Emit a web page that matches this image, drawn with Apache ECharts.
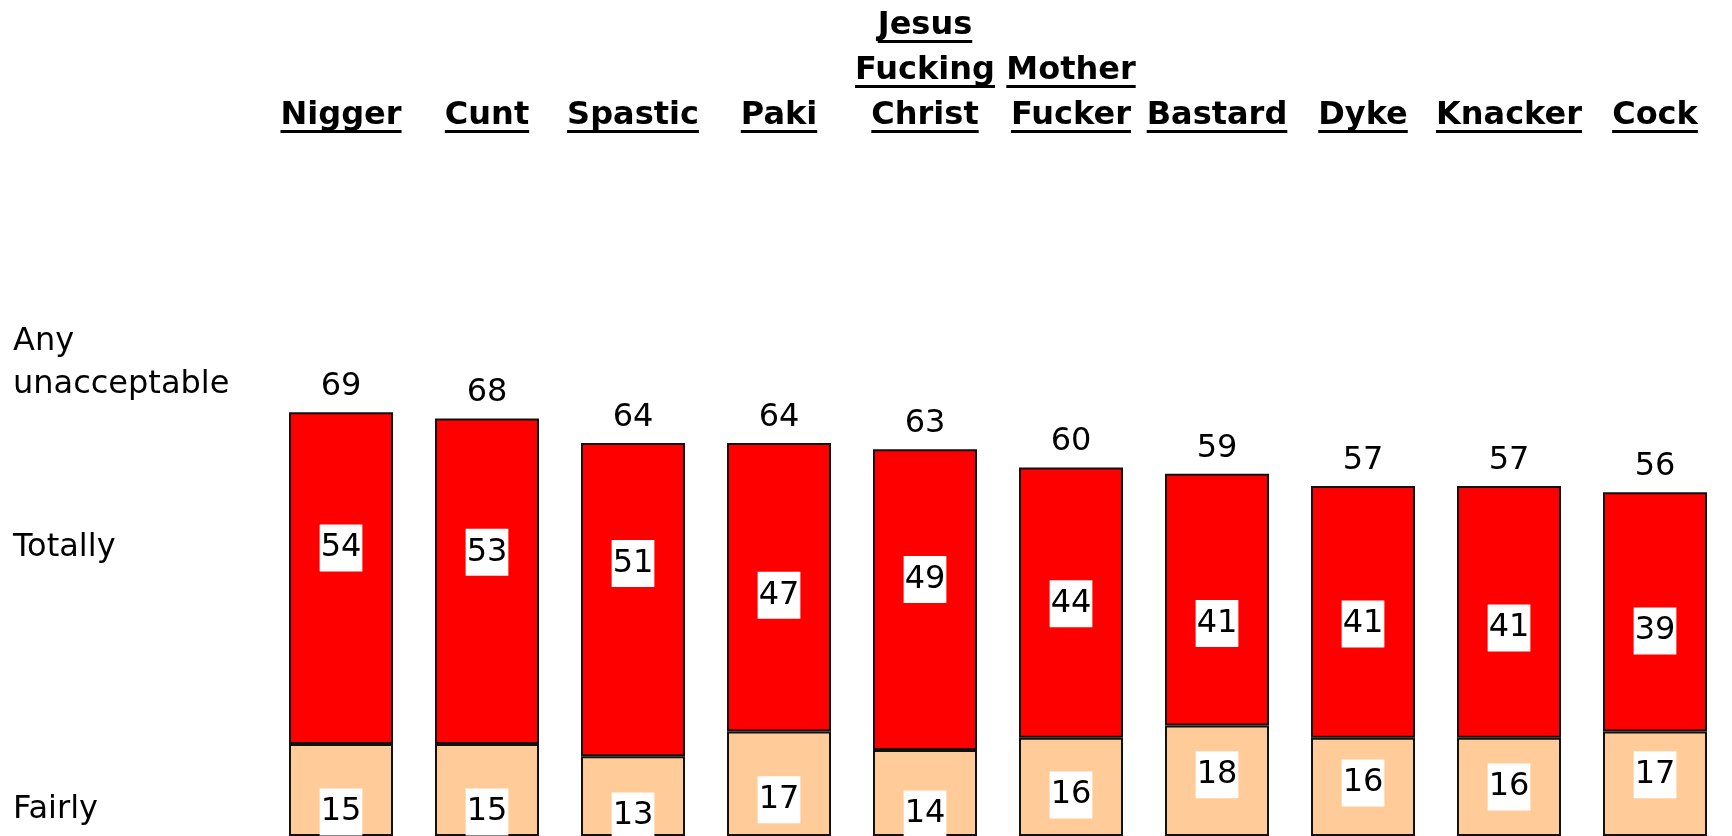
<!DOCTYPE html>
<html>
<head>
<meta charset="utf-8">
<title>Unacceptable words</title>
<script src="https://cdn.jsdelivr.net/npm/echarts@6/dist/echarts.min.js"></script>
<style>
  html, body { margin: 0; padding: 0; background: #fff; }
  #main { width: 1732px; height: 836px; }
</style>
</head>
<body>
<div id="main"></div>
<script>
// data
const categories = ['Nigger', 'Cunt', 'Spastic', 'Paki', 'Jesus Fucking Christ', 'Mother Fucker', 'Bastard', 'Dyke', 'Knacker', 'Cock'];
const totally = [54, 53, 51, 47, 49, 44, 41, 41, 41, 39];
const fairly = [15, 15, 13, 17, 14, 16, 18, 16, 16, 17];
const anyUnacceptable = [69, 68, 64, 64, 63, 60, 59, 57, 57, 56];
const rowNames = ['Any\nunacceptable', 'Totally', 'Fairly'];

// label nudges (px) so the boxes sit where the original placed them
const totallyNudge = [-30, -29, -36, 8, -20, 1, 24, 12, 16, 19];
const fairlyNudge = [22, 22, 20, 16, 21, 8, -6, -4, 0, -9];

const FONT = 'DejaVu Sans';
const FS = 32;

var myChart = echarts.init(document.getElementById('main'));

// one top axis per header row, counted from the bottom row up
function headerAxis(level, offset) {
    return {
        type: 'category',
        data: categories,
        position: 'top',
        offset: offset,
        gridIndex: 0,
        axisLine: { show: false },
        axisTick: { show: false },
        splitLine: { show: false },
        axisLabel: {
            interval: 0,
            margin: 0,
            formatter: function (value) {
                let words = value.split(' ');
                let w = words[words.length - 1 - level];
                return w ? '{t|' + w + '}\n{u|}' : '';
            },
            rich: {
                t: { fontFamily: FONT, fontSize: FS, fontWeight: 'bold', color: '#000', lineHeight: 28 },
                u: { backgroundColor: '#000', width: '100%', height: 3, lineHeight: 3, align: 'left' }
            }
        }
    };
}

let innerLabel = {
    show: true,
    position: 'inside',
    color: '#000',
    fontFamily: FONT,
    fontSize: FS,
    lineHeight: 35,
    backgroundColor: '#fff',
    padding: [10, 1, 2, 1]
};

function rowText(name, top) {
    return {
        type: 'text', left: 13, top: top,
        style: { text: name, fontFamily: FONT, fontSize: FS, lineHeight: 43, fill: '#000' }
    };
}

option = {
    animation: false,
    backgroundColor: '#fff',
    grid: { left: 268, width: 1460, top: 222, height: 618 },
    xAxis: [headerAxis(0, 89), headerAxis(1, 134), headerAxis(2, 179)],
    yAxis: { type: 'value', min: 0, max: 100, show: false },
    graphic: [
        rowText(rowNames[0], 320),
        rowText(rowNames[1], 526),
        rowText(rowNames[2], 788)
    ],
    series: [
        {
            name: 'Fairly',
            type: 'bar',
            stack: 'all',
            barWidth: 104,
            data: fairly.map((v, i) => ({ value: v, label: { offset: [0, fairlyNudge[i]] } })),
            itemStyle: { color: '#FFCC99', borderColor: '#111', borderWidth: 2 },
            label: innerLabel
        },
        {
            name: 'Totally',
            type: 'bar',
            stack: 'all',
            barWidth: 104,
            data: totally.map((v, i) => ({ value: v, label: { offset: [0, totallyNudge[i]] } })),
            itemStyle: { color: '#FF0000', borderColor: '#111', borderWidth: 2 },
            label: innerLabel
        },
        {
            name: 'Any unacceptable',
            type: 'scatter',
            symbolSize: 1,
            silent: true,
            data: anyUnacceptable,
            itemStyle: { color: 'rgba(0,0,0,0)', opacity: 1 },
            label: {
                show: true,
                position: 'top',
                distance: 6,
                color: '#000',
                fontFamily: FONT,
                fontSize: FS,
                lineHeight: 38
            }
        }
    ]
};
myChart.setOption(option);
</script>
</body>
</html>
